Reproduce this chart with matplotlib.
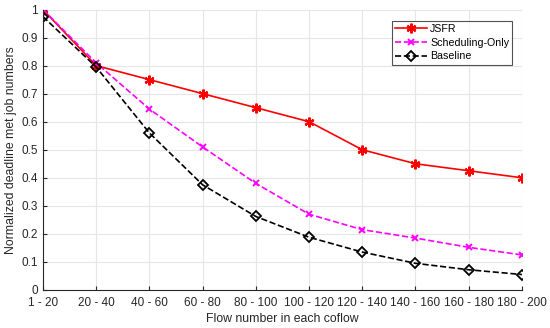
import matplotlib
matplotlib.use('Agg')
import matplotlib.pyplot as plt

plt.rcParams['font.family'] = ['Liberation Sans', 'DejaVu Sans']

# data
groups = ['1 - 20', '20 - 40', '40 - 60', '60 - 80', '80 - 100',
          '100 - 120', '120 - 140', '140 - 160', '160 - 180', '180 - 200']
jsfr = [1.0, 0.80, 0.75, 0.70, 0.65, 0.60, 0.50, 0.45, 0.425, 0.40]
sched_only = [1.0, 0.81, 0.645, 0.51, 0.38, 0.27, 0.215, 0.185, 0.152, 0.125]
baseline = [0.975, 0.795, 0.56, 0.375, 0.262, 0.188, 0.135, 0.095, 0.072, 0.055]

fig = plt.figure(figsize=(5.5, 3.28), dpi=100)
ax = fig.add_axes([0.078, 0.116, 0.871, 0.855])

x = list(range(len(groups)))
ax.plot(x, jsfr, '-', color='red', marker=(6, 2, 0), markersize=7, markeredgewidth=1.6,
        linewidth=1.2, label='JSFR')
ax.plot(x, sched_only, '--', color='magenta', marker='x', markersize=5, markeredgewidth=1.4,
        linewidth=1.2, label='Scheduling-Only')
ax.plot(x, baseline, '--', color='black', marker='D', markersize=5.5, markerfacecolor='none',
        markeredgewidth=1.3, linewidth=1.2, label='Baseline')

ax.set_xlim(0, len(groups) - 1)
ax.set_ylim(0, 1)
ax.set_xticks(x)
ax.set_xticklabels(groups)
ax.set_yticks([i / 10 for i in range(11)])
ax.set_yticklabels(['0', '0.1', '0.2', '0.3', '0.4', '0.5', '0.6', '0.7', '0.8', '0.9', '1'])
ax.tick_params(labelsize=8.5, colors='#262626', direction='in', length=3)
ax.tick_params(axis='x', pad=5)
ax.grid(True, color='#e6e6e6', linewidth=0.8)
ax.set_axisbelow(True)
for s in ['top', 'right']:
    ax.spines[s].set_visible(False)
for s in ['left', 'bottom']:
    ax.spines[s].set_color('#262626')

ax.set_xlabel('Flow number in each coflow', fontsize=8.8, color='#262626', labelpad=3)
ax.set_ylabel('Normalized deadline met job numbers', fontsize=8.8, color='#262626', labelpad=3)

leg = ax.legend(loc='upper right', bbox_to_anchor=(0.98, 0.96), fontsize=7.7, fancybox=False,
                borderpad=0.3, labelspacing=0.35, handlelength=3.0, handletextpad=0.3,
                borderaxespad=0)
leg.get_frame().set_edgecolor('#262626')
leg.get_frame().set_linewidth(0.8)

fig.savefig('out.png', dpi=100)
